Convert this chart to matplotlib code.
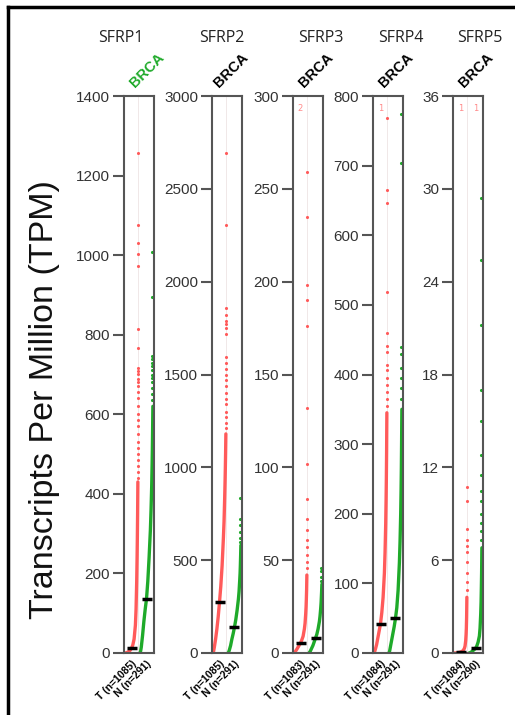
import numpy as np
import matplotlib.pyplot as plt
from matplotlib.lines import Line2D

ranks = [0, .05, .1, .2, .3, .4, .5, .6, .7, .8, .85, .9, .93, .95, .97, .98, .99]

genes = ["SFRP1", "SFRP2", "SFRP3", "SFRP4", "SFRP5"]
y_max = [1400, 3000, 300, 800, 36]
y_step = [200, 500, 50, 100, 6]
n_tumor = [1085, 1085, 1083, 1084, 1084]
n_normal = [291, 291, 291, 291, 290]

# Tumor (T) TPM an den Quantil-Stufen
sfrp1_t = [0, 0.3, 0.8, 2, 4, 7, 12, 20, 35, 70, 110, 180, 240, 290, 350, 390, 430]
sfrp2_t = [0, 10, 30, 75, 130, 195, 274, 360, 470, 620, 710, 840, 930, 1000, 1080, 1130, 1180]
sfrp3_t = [0, 0.3, 0.8, 1.8, 3, 4.2, 5.4, 7, 9, 13, 16, 21, 25, 29, 34, 38, 42]
sfrp4_t = [0, 2, 5, 12, 22, 32, 42, 58, 80, 115, 145, 185, 220, 250, 290, 320, 345]
sfrp5_t = [0, 0, 0, 0.01, 0.02, 0.04, 0.06, 0.1, 0.15, 0.3, 0.45, 0.8, 1.2, 1.6, 2.3, 2.9, 3.6]

# Normal (N) TPM an den Quantil-Stufen
sfrp1_n = [0, 5, 15, 45, 80, 110, 136, 180, 240, 310, 360, 420, 470, 510, 560, 590, 620]
sfrp2_n = [0, 5, 15, 40, 75, 105, 140, 180, 230, 290, 330, 390, 430, 470, 520, 550, 580]
sfrp3_n = [0, 0.5, 1, 2.5, 4, 6, 8, 10, 13, 17, 20, 24, 27, 30, 33, 35, 37]
sfrp4_n = [0, 3, 8, 18, 28, 38, 50, 65, 90, 130, 160, 200, 235, 265, 305, 330, 350]
sfrp5_n = [0, 0.01, 0.03, 0.08, 0.15, 0.22, 0.3, 0.45, 0.7, 1.1, 1.6, 2.5, 3.3, 4.2, 5.2, 6.0, 6.8]

# einzelne Punkte oben (Ausreißer)
sfrp1_t_out = [1257, 1075, 1031, 1002, 972, 815, 767, 717, 709, 701, 689, 680, 670, 655,
               640, 620, 600, 585, 570, 550, 530, 515, 500, 485, 470, 455, 440]
sfrp2_t_out = [2695, 2306, 1856, 1820, 1790, 1770, 1750, 1720, 1593, 1560, 1530, 1500,
               1470, 1440, 1400, 1370, 1340, 1300, 1270, 1240, 1210]
sfrp3_t_out = [259, 235, 198, 190, 176, 132, 102, 83, 72, 66, 61, 57, 53, 49, 46]
sfrp4_t_out = [768, 665, 647, 518, 460, 441, 433, 414, 407, 395, 385, 375, 365, 355]
sfrp5_t_out = [10.7, 9.8, 8.0, 7.3, 6.9, 6.5, 5.9, 5.2, 4.6, 4.1]

sfrp1_n_out = [1008, 894, 746, 738, 730, 722, 712, 700, 690, 680, 665, 650, 635]
sfrp2_n_out = [833, 720, 690, 650, 620, 600]
sfrp3_n_out = [46, 44, 41, 39]
sfrp4_n_out = [774, 704, 439, 430, 410, 395, 380, 365]
sfrp5_n_out = [29.4, 25.4, 21.2, 17, 15, 12.8, 11.5, 10.5, 9.8, 9.0, 8.4, 7.9, 7.3]

# Anzahl Punkte oberhalb der Achse
off_t = [None, None, "2", "1", "1"]
off_n = [None, None, None, None, "1"]

tumor = [sfrp1_t, sfrp2_t, sfrp3_t, sfrp4_t, sfrp5_t]
normal = [sfrp1_n, sfrp2_n, sfrp3_n, sfrp4_n, sfrp5_n]
tumor_out = [sfrp1_t_out, sfrp2_t_out, sfrp3_t_out, sfrp4_t_out, sfrp5_t_out]
normal_out = [sfrp1_n_out, sfrp2_n_out, sfrp3_n_out, sfrp4_n_out, sfrp5_n_out]

red = "#ff5a5a"
green = "#1faa2a"
axis_col = "#555555"

W, H = 515, 715
fig = plt.figure(figsize=(W / 100, H / 100), dpi=100)
fig.patch.set_facecolor("white")

lefts = [124, 212, 293, 373, 453]
title_x = [121, 222, 321, 401, 480]
brca_x = [0.45, 0.3, 0.45, 0.45, 0.45]
ax_w = 30
ax_top, ax_bot = 96, 653

for i, g in enumerate(genes):
    ax = fig.add_axes([lefts[i] / W, 1 - ax_bot / H, ax_w / W, (ax_bot - ax_top) / H])
    r = np.array(ranks)
    ax.axvline(14, color="#eee4e4", lw=0.6, zorder=0)
    # Tumor
    ax.plot(1 + 13 * r, tumor[i], color=red, lw=2.4, solid_capstyle="round", zorder=2)
    ax.scatter(np.full(len(tumor_out[i]), 13.6), tumor_out[i], s=5, color=red, lw=0, zorder=2)
    # Normal
    ax.plot(16 + 13 * r, normal[i], color=green, lw=2.4, solid_capstyle="round", zorder=2)
    ax.scatter(np.full(len(normal_out[i]), 28.0), normal_out[i], s=5, color=green, lw=0, zorder=2)
    # Mediane
    ax.hlines([tumor[i][6]], 2.5, 12.5, color="black", lw=2.5, zorder=3)
    ax.hlines([normal[i][6]], 17.5, 27.5, color="black", lw=2.5, zorder=3)
    if off_t[i]:
        ax.text(7.5, 0.985, off_t[i], transform=ax.get_xaxis_transform(), color="#ff8a8a",
                fontsize=6, ha="center", va="top")
    if off_n[i]:
        ax.text(22.5, 0.985, off_n[i], transform=ax.get_xaxis_transform(), color="#ff8a8a",
                fontsize=6, ha="center", va="top")

    ax.set_xlim(0, 30)
    ax.set_ylim(0, y_max[i])
    ax.set_yticks(np.arange(0, y_max[i] + 1, y_step[i]))
    ax.tick_params(axis="y", length=8, width=1.5, color=axis_col, labelsize=11,
                   labelcolor="#333333", pad=2)
    for lab in ax.get_yticklabels():
        lab.set_family("Liberation Sans")
    ax.set_xticks([7.5, 22.5])
    ax.set_xticklabels(["T (n=%d)" % n_tumor[i], "N (n=%d)" % n_normal[i]],
                       rotation=45, ha="right", rotation_mode="anchor",
                       fontsize=7.5, fontweight="bold", family="Liberation Sans")
    ax.tick_params(axis="x", length=0, pad=4)
    for s in ax.spines.values():
        s.set_color(axis_col)
        s.set_linewidth(1.5)

    ax.text(brca_x[i], 1.01, "BRCA", transform=ax.transAxes, rotation=45, rotation_mode="anchor",
            ha="left", va="bottom", fontsize=10.5, fontweight="bold", family="Liberation Sans",
            color=green if i == 0 else "black")
    fig.text(title_x[i] / W, 1 - 38 / H, g, ha="center", va="center", fontsize=11.5,
             family="Open Sans", color="#222222")

fig.text(45 / W, 1 - 400 / H, "Transcripts Per Million (TPM)", rotation=90, ha="center",
         va="center", fontsize=24.5, family="Liberation Sans", color="#111111")

# Rahmen oben und links
fig.add_artist(Line2D([8 / W, 1], [1 - 7 / H, 1 - 7 / H], transform=fig.transFigure,
                      color="black", lw=2.5))
fig.add_artist(Line2D([8 / W, 8 / W], [0, 1 - 7 / H], transform=fig.transFigure,
                      color="black", lw=2.5))

plt.savefig("out.png", dpi=100)
